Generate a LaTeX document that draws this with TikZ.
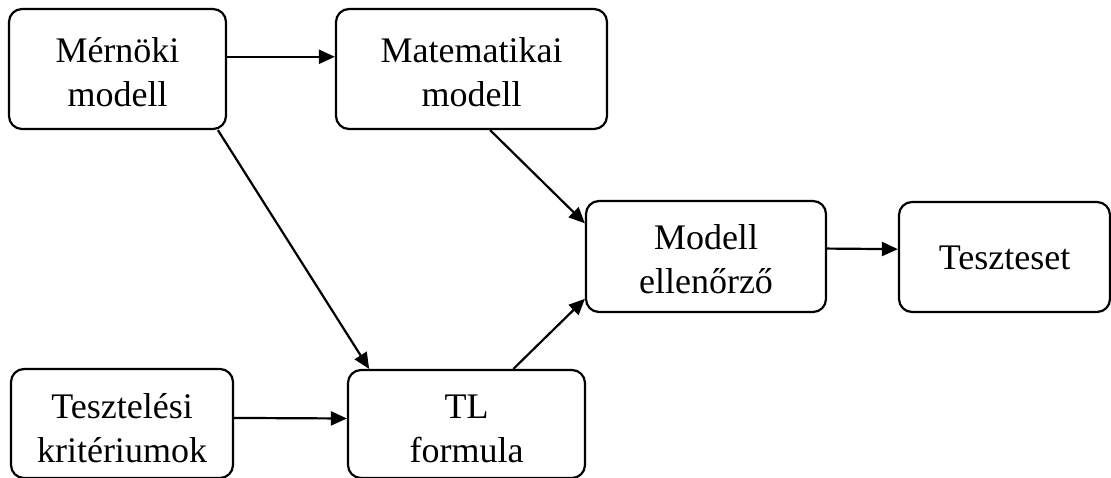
\documentclass[tikz,border=0pt]{standalone}
\usepackage{fontspec}
\setmainfont{Liberation Serif}
\usetikzlibrary{arrows.meta,calc}
\begin{document}
\begin{tikzpicture}[x=1pt,y=-1pt,
  box/.style={draw,line width=2.2pt,rounded corners=13pt,inner sep=0pt},
  lbl/.style={inner sep=0pt,align=center,font=\fontsize{36}{44}\selectfont},
  arr/.style={line width=2.2pt,-{Triangle[length=16pt,width=14pt]}}]
\useasboundingbox (0,0) rectangle (1111,477);
% boxes
\node[box,minimum width=217pt,minimum height=120pt] (merm) at (117.5,69) {};
\node[box,minimum width=271pt,minimum height=120pt] (mat) at (471.5,69) {};
\node[box,minimum width=240pt,minimum height=111pt] (chk) at (706,256.5) {};
\node[box,minimum width=211pt,minimum height=110pt] (test) at (1004.5,257) {};
\node[box,minimum width=222pt,minimum height=109pt] (krit) at (122,423.5) {};
\node[box,minimum width=237pt,minimum height=108pt] (tl) at (466.5,424) {};
% labels
\node[lbl] (mermtxt) at ([yshift=-3pt]merm.center) {Mérnöki\\modell};
\node[lbl] (mattxt) at ([yshift=-3pt]mat.center) {Matematikai\\modell};
\node[lbl] (chktxt) at ([yshift=-3pt]chk.center) {Modell\\ellenőrző};
\node[lbl] (testtxt) at ([yshift=-1pt]test.center) {Teszteset};
\node[lbl] (krittxt) at ([yshift=-5pt]krit.center) {Tesztelési\\kritériumok};
\node[lbl] (tltxt) at ([yshift=-5pt]tl.center) {TL\\formula};
% connectors
\draw[arr] ($(merm.north east)!0.4!(merm.south east)$) -- ($(mat.north west)!0.4!(mat.south west)$);
\draw[arr] ($(merm.south west)!0.958!(merm.south east)$) -- ($(tl.north west)!0.093!(tl.north east)$);
\draw[arr] ($(mat.south west)!0.568!(mat.south east)$) -- ($(chk.north west)!0.207!(chk.south west)$);
\draw[arr] ($(tl.north west)!0.696!(tl.north east)$) -- ($(chk.north west)!0.874!(chk.south west)$);
\draw[arr] ($(chk.north east)!0.43!(chk.south east)$) -- ($(test.north west)!0.43!(test.south west)$);
\draw[arr] ($(krit.north east)!0.45!(krit.south east)$) -- ($(tl.north west)!0.45!(tl.south west)$);
\end{tikzpicture}
\end{document}
